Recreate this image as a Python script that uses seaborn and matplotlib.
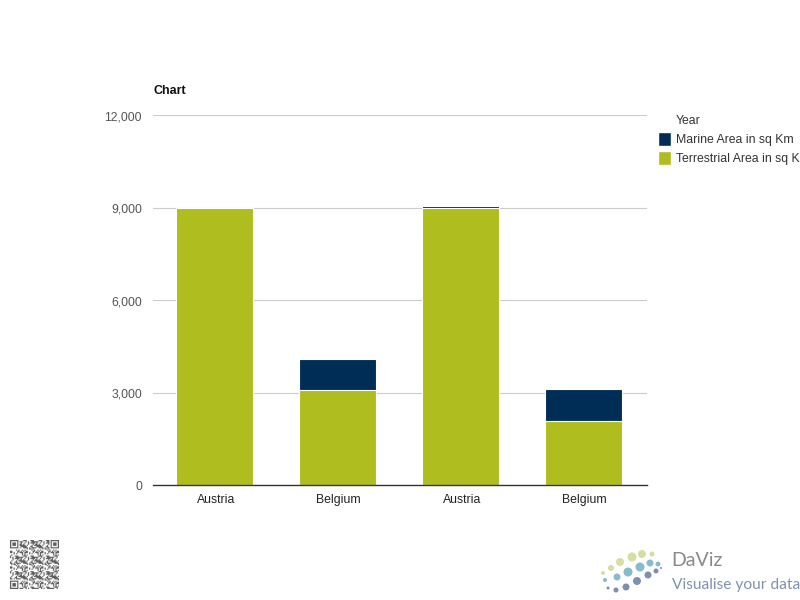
import numpy as np
import pandas as pd
import matplotlib
matplotlib.use('Agg')
import matplotlib.pyplot as plt
from matplotlib.patches import Patch
from matplotlib.transforms import ScaledTranslation
import seaborn as sns

slots = ['a1', 'b1', 'a2', 'b2']
countries = ['Austria', 'Belgium', 'Austria', 'Belgium']
terrestrial = [8970, 3070, 8990, 2075]
marine = [5, 1016, 55, 1038]
y_ticks = [0, 3000, 6000, 9000, 12000]

NAVY = '#002d56'
OLIVE = '#afbd1f'

sns.set_style('white')
plt.rcParams['font.family'] = ['Liberation Sans', 'DejaVu Sans']

df = pd.DataFrame({'slot': slots, 'terrestrial': terrestrial, 'marine': marine})
df['total'] = df.terrestrial + df.marine

fig = plt.figure(figsize=(8, 6), dpi=100)
ax = fig.add_axes([153 / 800, 115 / 600, 494 / 800, 370 / 600])

# stacked bars: total behind, terrestrial on top
sns.barplot(data=df, x='slot', y='total', color=NAVY, saturation=1, width=0.62,
            edgecolor='white', linewidth=0.8, ax=ax)
sns.barplot(data=df, x='slot', y='terrestrial', color=OLIVE, saturation=1, width=0.62,
            edgecolor='white', linewidth=0.8, ax=ax)

ax.set_xlim(-0.5, 3.516)
ax.set_ylim(0, 12000)
ax.set_yticks(y_ticks)
ax.set_yticklabels([f'{v:,}' for v in y_ticks], fontsize=8.8, color='#555555')
ax.set_xticks(range(4))
ax.set_xticklabels(countries, fontsize=8.8, color='#222222')
ax.set_xlabel('')
ax.set_ylabel('')
ax.yaxis.grid(True, color='#cccccc', linewidth=0.8)
ax.set_axisbelow(True)
sns.despine(ax=ax, left=True, top=True, right=True)
ax.spines['bottom'].set_color('#333333')
ax.spines['bottom'].set_linewidth(1)
ax.tick_params(axis='x', length=0, pad=6.7)
ax.tick_params(axis='y', length=0, pad=8)
# nudge labels a pixel to the right and y labels half a pixel down
for lab in ax.get_xticklabels():
    lab.set_transform(lab.get_transform() + ScaledTranslation(1.2 / 100, 0, fig.dpi_scale_trans))
for lab in ax.get_yticklabels():
    lab.set_transform(lab.get_transform() + ScaledTranslation(0, -0.7 / 100, fig.dpi_scale_trans))

fig.text(153 / 800, 1 - 90.5 / 600, 'Chart', fontsize=9, fontweight='bold',
         color='#111111', va='center')

handles = [Patch(facecolor='none', edgecolor='none'),
           Patch(facecolor=NAVY),
           Patch(facecolor=OLIVE)]
# the last label runs off the page in the original, only this much is visible
labels = ['Year', 'Marine Area in sq Km', 'Terrestrial Area in sq K']
fig.legend(handles, labels, loc='upper left', bbox_to_anchor=(654.3 / 800, 1 - 109.3 / 600),
           frameon=False, fontsize=8.8, labelcolor='#333333', handlelength=1.07,
           handleheight=1.35, handletextpad=0.41, labelspacing=0.42, borderaxespad=0,
           borderpad=0.3)

# overlay in pixel coordinates for the page furniture
page = fig.add_axes([0, 0, 1, 1], zorder=-1)
page.axis('off')

# QR stamp, decorative only
n = 41
i, j = np.arange(n)[:, None], np.arange(n)[None, :]
qr = ((i * i * j + 7 * i * j * j + 3 * i + 11 * j) % 13 < 6).astype(float)
for r, c in [(0, 0), (0, n - 7), (n - 7, 0)]:
    qr[max(r - 1, 0):r + 8, max(c - 1, 0):c + 8] = 0
    qr[r:r + 7, c:c + 7] = 1
    qr[r + 1:r + 6, c + 1:c + 6] = 0
    qr[r + 2:r + 5, c + 2:c + 5] = 1
page.imshow(qr, cmap='gray_r', vmin=0, vmax=1.6, extent=(10, 59, 589, 540),
            interpolation='bilinear', aspect='auto')
page.set_xlim(0, 800)
page.set_ylim(600, 0)

# DaViz logo
logo_x = [603, 611, 620, 632, 642, 652, 605, 617, 628, 640, 650, 658, 608, 616, 626, 637, 648, 656, 661]
logo_y = [573, 568, 562, 557, 554, 554, 580, 577, 572, 567, 563, 564, 588, 590, 587, 581, 575, 571, 568]
logo_d = [4, 6, 8, 9, 8, 5, 4, 7, 9, 9, 7, 5, 3, 5, 7, 8, 7, 5, 2]
logo_c = ['#d5dfa0'] * 6 + ['#86bccb'] * 6 + ['#7f8fb0'] * 7
page.scatter(logo_x, logo_y, s=[(0.72 * d) ** 2 for d in logo_d], c=logo_c, linewidths=0)
page.text(671.5, 560, 'DaViz', fontsize=14, family='Lato', color='#8a8a8a', va='center')
page.text(671.5, 585, 'Visualise your data', fontsize=11.2, family='Lato', color='#7f93b0', va='center')

fig.savefig('out.png', dpi=100)
